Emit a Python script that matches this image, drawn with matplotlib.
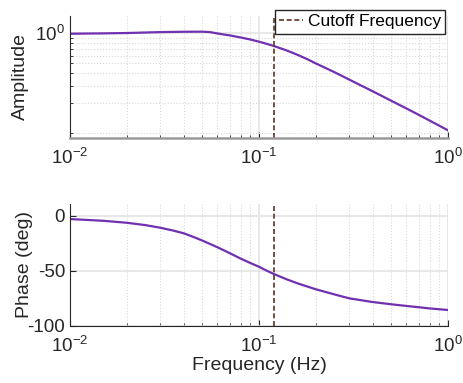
import matplotlib
matplotlib.use('Agg')
import matplotlib.pyplot as plt
import matplotlib.transforms as mtransforms
import numpy as np

plt.rcParams['font.family'] = ['Liberation Sans', 'DejaVu Sans']
plt.rcParams['mathtext.fontset'] = 'custom'
plt.rcParams['mathtext.rm'] = 'Liberation Sans'
plt.rcParams['mathtext.default'] = 'rm'
plt.rcParams['axes.unicode_minus'] = False

# values
freqAmp = [0.01, 0.015, 0.02, 0.025, 0.03, 0.04, 0.05, 0.055, 0.06, 0.065, 0.07,
           0.08, 0.09, 0.1, 0.11, 0.12, 0.14, 0.16, 0.18, 0.2, 0.25, 0.3, 0.35,
           0.4, 0.5, 0.6, 0.7, 0.8, 0.9, 1.0]
amplitude = [0.992, 1.0, 1.008, 1.02, 1.03, 1.038, 1.04, 1.03, 1.0, 0.975, 0.955,
             0.91, 0.868, 0.826, 0.785, 0.747, 0.675, 0.61, 0.552, 0.50, 0.41, 0.345,
             0.298, 0.263, 0.212, 0.178, 0.153, 0.134, 0.119, 0.107]
freqPhase = [0.01, 0.015, 0.02, 0.025, 0.03, 0.035, 0.04, 0.045, 0.05, 0.06, 0.07,
             0.08, 0.09, 0.1, 0.11, 0.12, 0.14, 0.16, 0.2, 0.25, 0.3, 0.4, 0.5, 0.6,
             0.7, 0.8, 1.0]
phase = [-3.0, -4.6, -6.4, -8.5, -10.9, -13.4, -16.0, -19.3, -22.5, -28.5, -34.0,
         -39.0, -43.0, -46.4, -50.0, -53.0, -57.8, -61.5, -66.9, -71.5, -75.1, -78.5,
         -80.5, -82.0, -83.2, -84.3, -85.7]
cutoff = 0.12

curveColor = '#7030B0'
cutColor = '#5E3424'

fig = plt.figure(figsize=(4.64, 3.83), dpi=100)
axA = fig.add_axes([70 / 464, 1 - 138 / 383, 378 / 464, 122.5 / 383])
axP = fig.add_axes([70 / 464, 1 - 325.7 / 383, 378 / 464, 121.4 / 383])

def styleAxis(ax):
    ax.set_xscale('log')
    ax.set_xlim(0.01, 1)
    ax.set_xticks([0.01, 0.1, 1])
    ax.spines['top'].set_visible(False)
    ax.spines['right'].set_visible(False)
    ax.spines['left'].set_color('#262626')
    ax.tick_params(which='both', direction='in', labelsize=13.5, colors='#262626')
    ax.tick_params(which='major', length=4)
    ax.tick_params(which='minor', length=2.5)
    ax.tick_params(axis='x', which='major', pad=7)
    ax.grid(True, which='major', color='#e4e4e4', linestyle='-', linewidth=1.2)
    ax.set_axisbelow(True)

# amplitude
styleAxis(axA)
axA.plot(freqAmp, amplitude, color=curveColor, linewidth=1.6)
axA.axvline(cutoff, color=cutColor, linestyle=(0, (3, 1.6)), linewidth=1.2,
            label='Cutoff Frequency')
axA.set_yscale('log')
axA.set_ylim(0.0897, 1.51)
axA.set_yticks([1])
axA.set_yticks(np.arange(0.1, 1.0, 0.1), minor=True)
axA.yaxis.set_minor_formatter(matplotlib.ticker.NullFormatter())
axA.grid(True, which='minor', color='#d8d8d8', linestyle=':', linewidth=0.8)
axA.spines['bottom'].set_color('#9a9a9a')
axA.spines['bottom'].set_linewidth(1.8)
axA.set_ylabel('Amplitude', fontsize=14, color='#262626')
axA.yaxis.set_label_coords(29 / 464, 0.5,
    transform=mtransforms.blended_transform_factory(fig.transFigure, axA.transAxes))
leg = axA.legend(loc='upper right', bbox_to_anchor=(445 / 464, 1 - 10 / 383),
                 bbox_transform=fig.transFigure, borderaxespad=0, fontsize=12.5,
                 fancybox=False, framealpha=1, edgecolor='#262626',
                 handlelength=1.4, handletextpad=0.25, borderpad=0.25)
leg.get_frame().set_linewidth(1.0)

# phase
styleAxis(axP)
axP.plot(freqPhase, phase, color=curveColor, linewidth=1.6)
axP.axvline(cutoff, color=cutColor, linestyle=(0, (3, 1.6)), linewidth=1.2)
axP.set_ylim(-100, 10.4)
axP.set_yticks([-100, -50, 0])
axP.grid(True, which='minor', axis='x', color='#d8d8d8', linestyle=':', linewidth=0.8)
axP.spines['bottom'].set_color('#262626')
axP.set_xlabel('Frequency (Hz)', fontsize=14, color='#262626', labelpad=1)
axP.set_ylabel('Phase (deg)', fontsize=14, color='#262626')
axP.yaxis.set_label_coords(33 / 464, 0.5,
    transform=mtransforms.blended_transform_factory(fig.transFigure, axP.transAxes))

fig.savefig('out.png', dpi=100)
